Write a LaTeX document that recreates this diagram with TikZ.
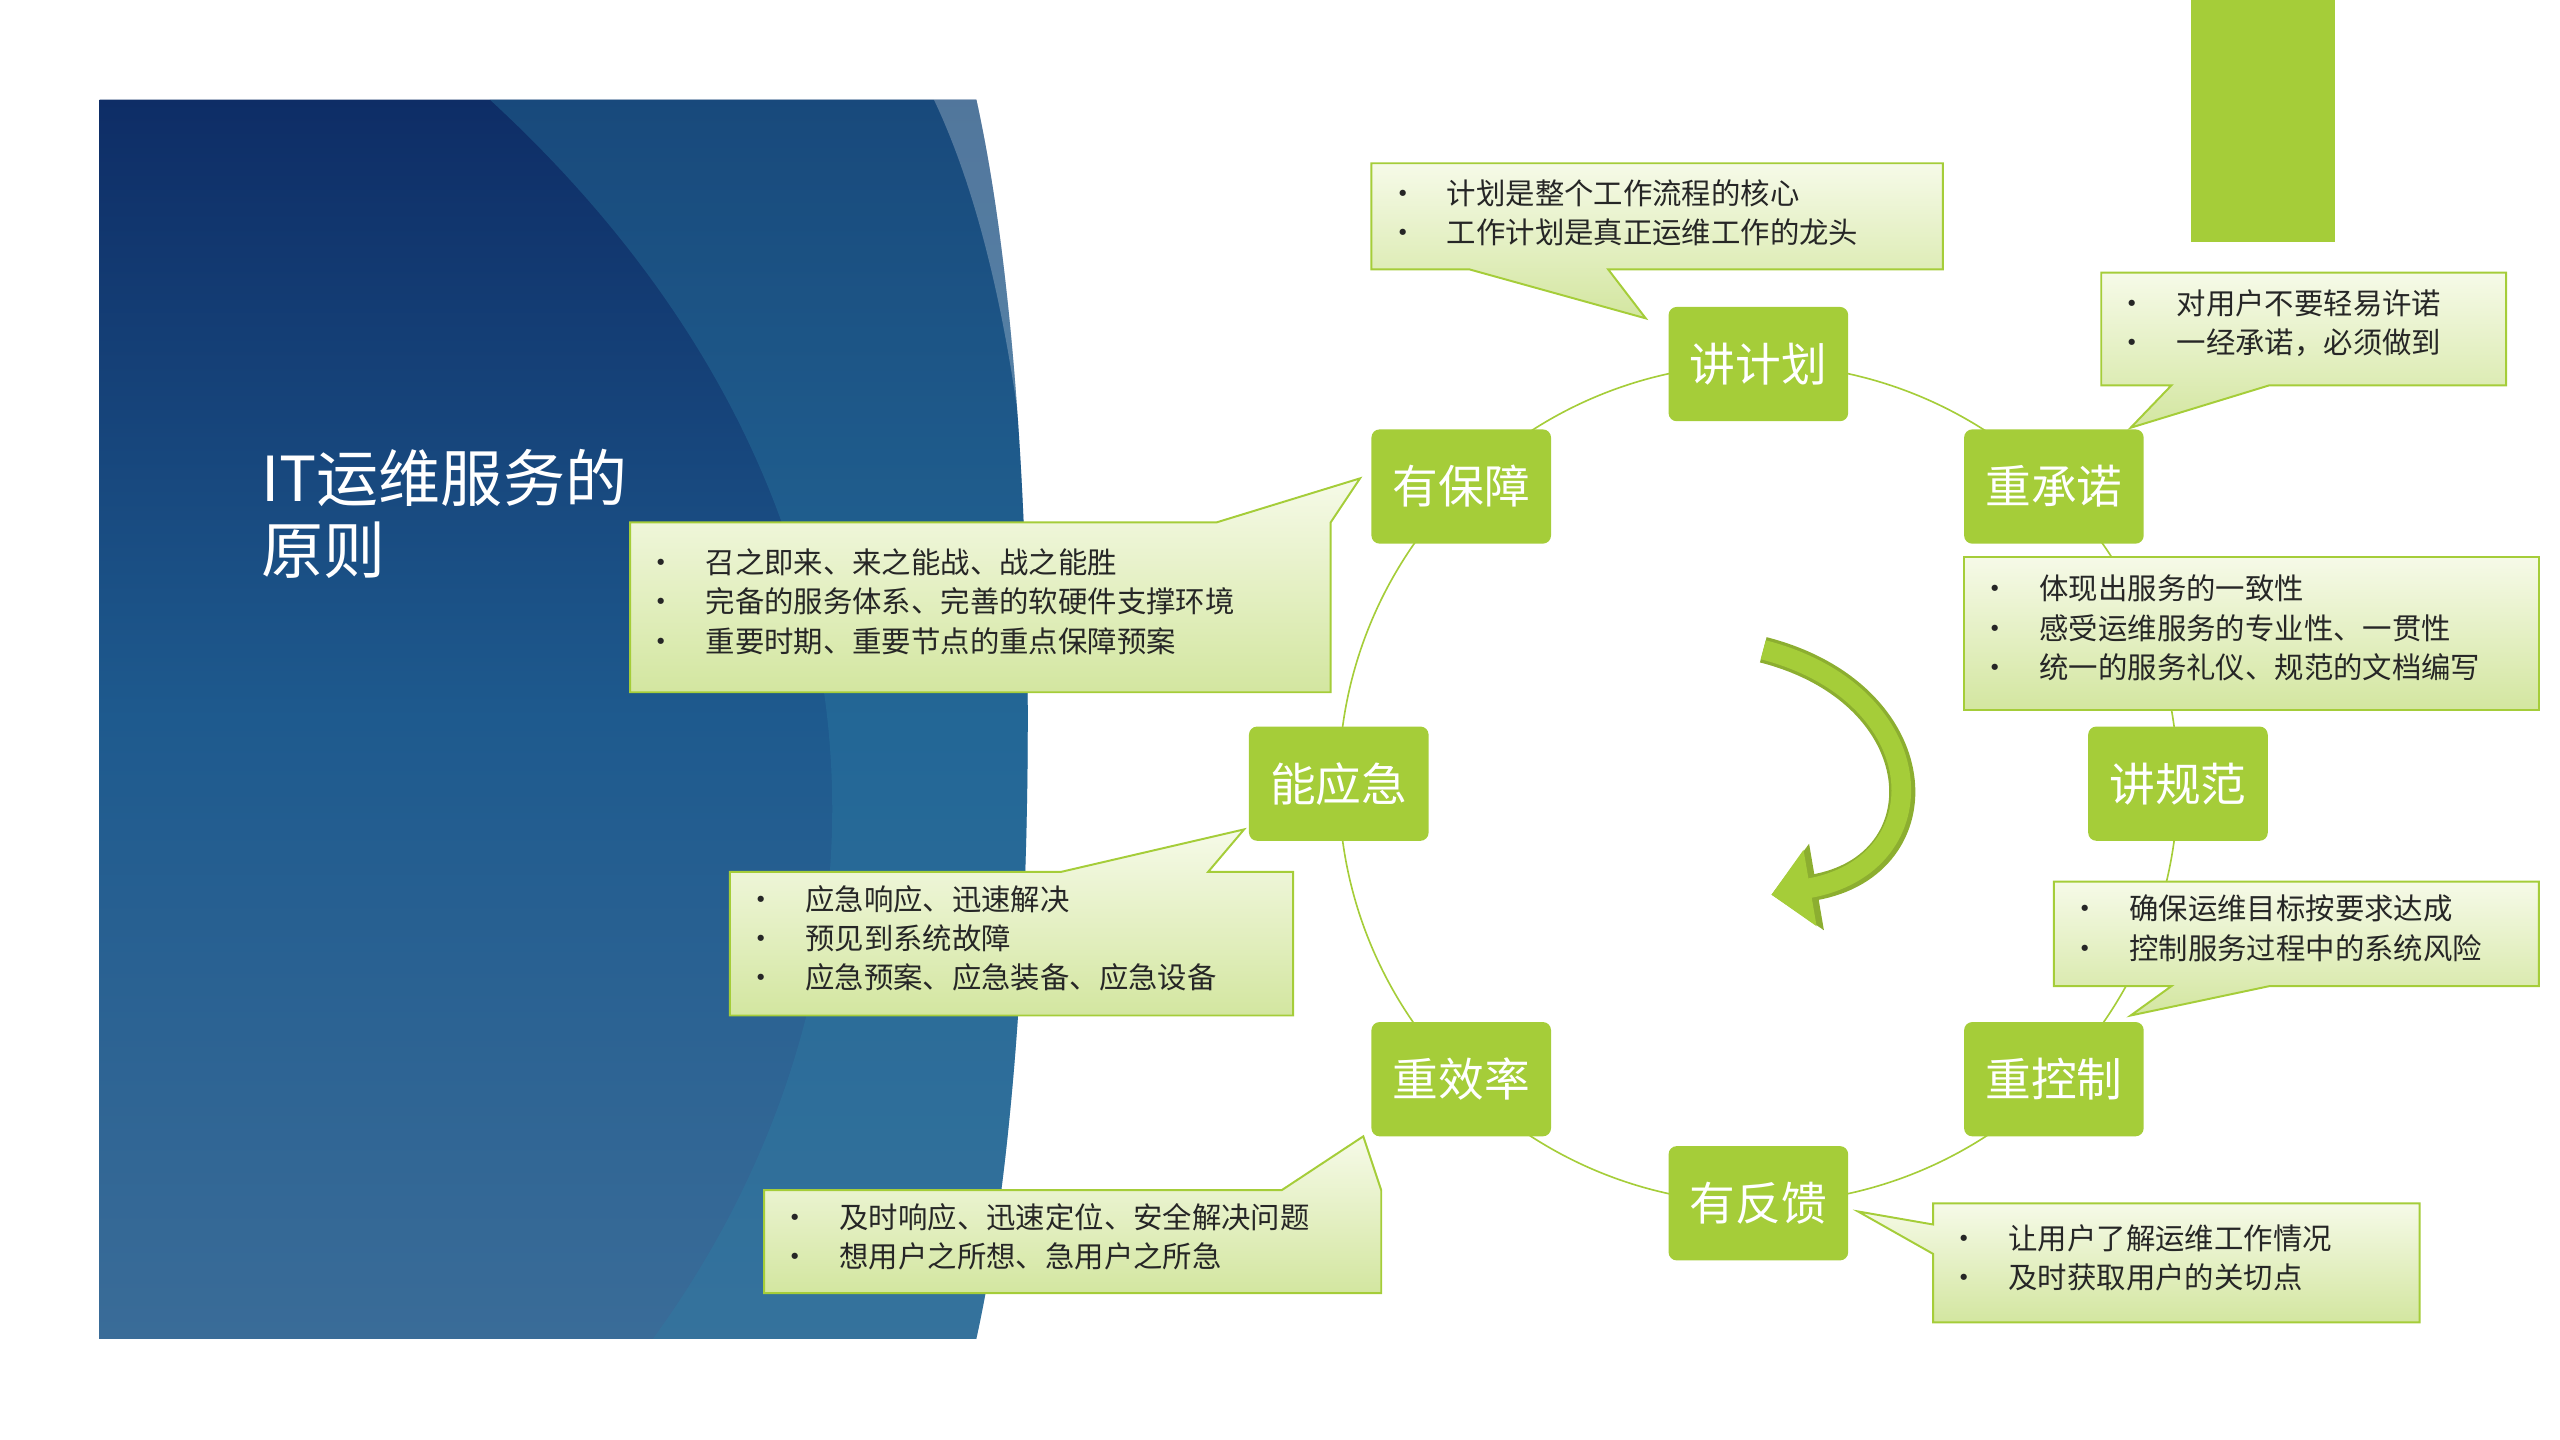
\documentclass[tikz,border=0pt]{standalone}
\usepackage{fontspec}
\setmainfont{Noto Sans CJK SC}
\usetikzlibrary{arrows.meta,shadings}
\definecolor{G}{HTML}{A5CD39}
\definecolor{Gl}{HTML}{F6FAE8}
\definecolor{Gd}{HTML}{D3E6A0}
\definecolor{B1}{HTML}{0E2D66}
\definecolor{B2}{HTML}{1E5A8E}
\definecolor{B3}{HTML}{3A6C98}
\definecolor{B4}{HTML}{2D80A6}
\tikzset{
 gnode/.style={fill=G,rounded corners=5pt,minimum width=110pt,minimum height=70pt,text=white,font=\fontsize{28}{30}\selectfont,inner sep=0pt},
 callout/.style={draw=G,line width=1.2pt,top color=Gl,bottom color=Gd},
 ctext/.style={anchor=north west,align=left,font=\fontsize{18}{24}\selectfont,text=black!85,inner sep=0pt},
}
\newcommand{\bl}[1]{\makebox[36pt][l]{•}#1}
\begin{document}
\begin{tikzpicture}[x=1pt,y=-1pt]
\useasboundingbox (0,0) rectangle (1568,882);
% blue panel
\shade[top color=B1,bottom color=B3,middle color=B2]
 (61,61) -- (598,61) .. controls (640,250) and (640,630) .. (598,820) -- (61,820) -- cycle;
\fill[B4,opacity=0.35] (300,61) -- (598,61) .. controls (640,250) and (640,630) .. (598,820) -- (400,820) .. controls (560,600) and (560,300) .. (300,61) -- cycle;
\fill[white,opacity=0.25] (572,61) -- (598,61) .. controls (614,130) and (624,200) .. (628,290) .. controls (618,200) and (600,120) .. (572,61) -- cycle;
\node[anchor=north west,align=left,text=white,font=\fontsize{38}{44}\selectfont,inner sep=0pt] (title) at (160,275) {IT运维服务的\\原则};
% top right bar
\fill[G] (1342,0) rectangle (1430,148);
% circle
\draw[G,line width=1pt] (1077,480) circle[radius=257];
% center arrow
\draw[G!85!black,line width=16pt,-{Triangle[length=28pt,width=52pt]}] (1080,398) .. controls (1185,425) and (1190,530) .. (1085,548);
\draw[G,line width=12pt,-{Triangle[length=24pt,width=46pt]}] (1080,398) .. controls (1185,425) and (1190,530) .. (1085,548);
% nodes
\node[gnode] (n1) at (1077,223) {讲计划};
\node[gnode] (n2) at (1258,298) {重承诺};
\node[gnode] (n3) at (1334,480) {讲规范};
\node[gnode] (n4) at (1258,661) {重控制};
\node[gnode] (n5) at (1077,737) {有反馈};
\node[gnode] (n6) at (895,661) {重效率};
\node[gnode] (n7) at (820,480) {能应急};
\node[gnode] (n8) at (895,298) {有保障};
% callouts
\draw[callout] (840,100) -- (1190,100) -- (1190,165) -- (985,165) -- (1008,195) -- (900,165) -- (840,165) -- cycle;
\node[ctext] (c1) at (850,110) {\bl{计划是整个工作流程的核心}\\\bl{工作计划是真正运维工作的龙头}};
\draw[callout] (1287,167) -- (1535,167) -- (1535,236) -- (1390,236) -- (1305,262) -- (1330,236) -- (1287,236) -- cycle;
\node[ctext] (c2) at (1297,177) {\bl{对用户不要轻易许诺}\\\bl{一经承诺，必须做到}};
\draw[callout] (386,320) -- (745,320) -- (833,293) -- (815,320) -- (815,424) -- (386,424) -- cycle;
\node[ctext] (c3) at (396,336) {\bl{召之即来、来之能战、战之能胜}\\\bl{完备的服务体系、完善的软硬件支撑环境}\\\bl{重要时期、重要节点的重点保障预案}};
\draw[callout] (1203,341) rectangle (1555,435);
\node[ctext] (c4) at (1213,352) {\bl{体现出服务的一致性}\\\bl{感受运维服务的专业性、一贯性}\\\bl{统一的服务礼仪、规范的文档编写}};
\draw[callout] (447,534) -- (650,534) -- (762,508) -- (740,534) -- (792,534) -- (792,622) -- (447,622) -- cycle;
\node[ctext] (c5) at (457,542) {\bl{应急响应、迅速解决}\\\bl{预见到系统故障}\\\bl{应急预案、应急装备、应急设备}};
\draw[callout] (1258,540) -- (1555,540) -- (1555,604) -- (1390,604) -- (1305,622) -- (1330,604) -- (1258,604) -- cycle;
\node[ctext] (c6) at (1268,548) {\bl{确保运维目标按要求达成}\\\bl{控制服务过程中的系统风险}};
\draw[callout] (468,729) -- (785,729) -- (835,696) -- (846,729) -- (846,792) -- (468,792) -- cycle;
\node[ctext] (c7) at (478,737) {\bl{及时响应、迅速定位、安全解决问题}\\\bl{想用户之所想、急用户之所急}};
\draw[callout] (1184,737) -- (1482,737) -- (1482,810) -- (1184,810) -- (1184,768) -- (1138,742) -- (1184,750) -- cycle;
\node[ctext] (c8) at (1194,750) {\bl{让用户了解运维工作情况}\\\bl{及时获取用户的关切点}};
\end{tikzpicture}
\end{document}
